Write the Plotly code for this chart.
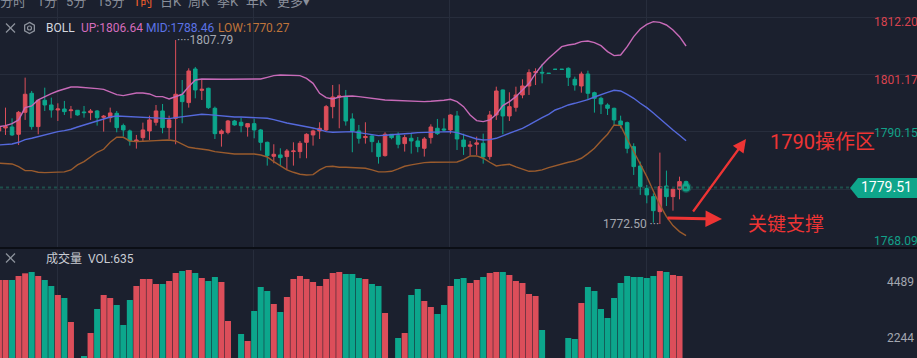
import math
import plotly.graph_objects as go

# ---------------- data (1-hour candles) ----------------
OPEN = [1790.35, 1790.92, 1791.11, 1789.71, 1793.92, 1797.57, 1791.18, 1796.23, 1795.33, 1794.37,
        1794.56, 1794.24, 1794.31, 1793.99, 1793.86, 1794.18, 1792.97, 1792.90, 1793.73, 1791.37,
        1790.35, 1788.30, 1789.07, 1790.35, 1792.01, 1794.18, 1790.99, 1792.77, 1797.25, 1795.78,
        1802.23, 1798.14, 1798.53, 1794.69, 1789.83, 1790.09, 1792.26, 1792.01, 1791.11, 1791.75,
        1790.54, 1788.17, 1785.49, 1785.75, 1785.43, 1786.39, 1786.39, 1788.17, 1789.58, 1790.35,
        1790.54, 1795.01, 1796.86, 1796.92, 1792.65, 1790.35, 1789.07, 1789.39, 1787.98, 1785.62,
        1789.71, 1789.45, 1787.92, 1788.94, 1788.43, 1787.02, 1789.07, 1790.86, 1790.73, 1790.54,
        1793.22, 1788.62, 1787.40, 1787.79, 1787.98, 1785.43, 1793.41, 1798.21, 1793.22, 1794.88,
        1797.25, 1798.97, 1801.53, 1801.59, 1801.41, 1802.18, 1802.18, 1802.36, 1800.25, 1798.97,
        1801.27, 1797.69, 1796.61, 1795.33, 1794.69, 1792.26, 1791.94, 1787.34, 1783.63, 1779.34,
        1777.75, 1774.87, 1779.79, 1777.75, 1779.16, 1780.63]
HIGH = [1791.50, 1794.82, 1792.77, 1794.18, 1800.57, 1798.02, 1796.30, 1798.65, 1796.74, 1795.65,
        1796.10, 1795.14, 1794.35, 1795.14, 1794.56, 1794.37, 1793.41, 1794.82, 1794.18, 1791.75,
        1790.60, 1789.58, 1791.94, 1793.28, 1795.33, 1795.52, 1793.28, 1807.79, 1800.12, 1802.36,
        1802.62, 1800.12, 1798.65, 1795.01, 1790.67, 1792.46, 1792.46, 1792.90, 1791.82, 1792.65,
        1790.73, 1788.30, 1787.79, 1787.02, 1786.89, 1788.17, 1788.43, 1789.90, 1790.60, 1792.01,
        1795.33, 1799.16, 1799.29, 1798.21, 1793.73, 1791.50, 1792.01, 1789.58, 1788.56, 1790.09,
        1789.75, 1790.09, 1789.58, 1789.83, 1789.19, 1789.19, 1791.62, 1792.65, 1792.77, 1793.54,
        1794.18, 1789.83, 1788.43, 1789.26, 1789.83, 1794.18, 1798.84, 1798.30, 1797.76, 1798.84,
        1800.25, 1802.17, 1802.36, 1803.19, 1801.41, 1802.18, 1802.18, 1802.55, 1800.76, 1801.72,
        1801.91, 1797.88, 1796.92, 1795.65, 1794.82, 1793.28, 1792.14, 1787.98, 1784.47, 1779.99,
        1778.39, 1786.19, 1782.74, 1779.34, 1781.58, 1780.82]
LOW = [1790.09, 1789.58, 1789.39, 1787.66, 1792.46, 1790.60, 1789.71, 1794.18, 1792.90, 1792.26,
       1793.41, 1792.77, 1793.28, 1792.90, 1792.46, 1791.37, 1790.22, 1792.01, 1790.09, 1789.26,
       1787.53, 1786.96, 1788.43, 1788.62, 1791.37, 1789.90, 1788.81, 1787.79, 1791.82, 1794.82,
       1796.61, 1796.29, 1794.56, 1788.81, 1787.34, 1789.71, 1791.37, 1790.09, 1789.26, 1788.94,
       1786.58, 1783.70, 1784.15, 1783.70, 1782.87, 1783.70, 1785.11, 1785.11, 1787.53, 1788.81,
       1790.35, 1792.77, 1790.86, 1791.37, 1786.26, 1787.92, 1787.92, 1786.26, 1784.08, 1785.43,
       1788.75, 1787.02, 1786.39, 1786.00, 1786.26, 1785.43, 1787.92, 1789.58, 1790.22, 1789.83,
       1786.70, 1785.75, 1785.62, 1785.75, 1784.08, 1784.85, 1792.46, 1789.71, 1792.26, 1794.05,
       1796.61, 1797.25, 1799.16, 1799.48, 1801.39, 1802.16, 1802.16, 1798.97, 1798.08, 1797.69,
       1796.29, 1793.86, 1793.60, 1793.41, 1791.50, 1790.86, 1786.06, 1781.91, 1778.08, 1776.47,
       1772.76, 1772.50, 1775.96, 1775.06, 1777.24, 1779.51]
CLOSE = [1790.99, 1791.18, 1789.58, 1793.92, 1797.38, 1791.18, 1796.23, 1795.33, 1794.37, 1794.56,
         1794.05, 1794.37, 1793.41, 1793.86, 1794.18, 1792.90, 1793.16, 1793.80, 1790.99, 1790.54,
         1788.43, 1788.62, 1790.54, 1792.46, 1794.18, 1790.99, 1792.46, 1797.38, 1795.97, 1801.85,
         1798.21, 1798.33, 1794.82, 1789.83, 1790.35, 1792.26, 1791.50, 1791.37, 1791.75, 1790.54,
         1788.17, 1785.62, 1785.87, 1785.23, 1786.51, 1786.51, 1787.98, 1789.71, 1790.35, 1790.86,
         1795.01, 1796.86, 1797.06, 1792.26, 1790.35, 1788.94, 1789.26, 1788.30, 1785.43, 1789.71,
         1789.07, 1787.79, 1789.07, 1788.43, 1787.34, 1788.81, 1791.11, 1789.83, 1790.54, 1793.41,
         1788.81, 1787.34, 1787.66, 1788.05, 1785.36, 1793.41, 1798.01, 1793.22, 1795.01, 1797.25,
         1798.97, 1801.53, 1801.72, 1801.46, 1801.39, 1802.16, 1802.16, 1800.63, 1799.16, 1801.27,
         1797.57, 1796.61, 1795.52, 1794.69, 1792.46, 1791.50, 1787.02, 1783.51, 1779.66, 1778.08,
         1775.06, 1779.66, 1777.75, 1779.16, 1780.63, 1779.51]
VOLUME = [4557, 4557, 4557, 4718, 4825, 4878, 4718, 4557, 4317, 3956,
          3836, 2873, 1200, 1510, 2432, 3395, 3956, 3836, 3555, 2753,
          3755, 4317, 4597, 4597, 4397, 4397, 4517, 4838, 4918, 4958,
          4838, 4637, 4517, 4677, 4477, 2914, 1200, 2392, 2112, 3314,
          4277, 4116, 3595, 3274, 3876, 4597, 4718, 4597, 4477, 4317,
          4597, 4838, 4878, 4798, 4798, 4637, 4597, 4397, 4317, 3234,
          1200, 2232, 2432, 3956, 4196, 3715, 3475, 3194, 3555, 4317,
          4597, 4637, 4437, 4557, 4677, 4838, 4878, 4878, 4758, 4517,
          4437, 3996, 3916, 2553, 1100, 1000, 1000, 2232, 2192, 3635,
          4277, 4116, 3395, 3034, 3836, 4437, 4718, 4677, 4677, 4637,
          4718, 4918, 4878, 4758, 4718, 635]
BOLL_UP = [1791.18, 1791.37, 1791.75, 1792.46, 1794.82, 1795.14, 1796.29, 1796.93, 1797.50, 1798.01,
           1798.40, 1798.78, 1798.78, 1798.72, 1798.65, 1798.46, 1798.33, 1797.89, 1797.31, 1797.12,
           1797.38, 1797.63, 1797.63, 1797.44, 1796.93, 1796.93, 1796.48, 1796.93, 1797.38, 1798.85,
           1800.12, 1800.32, 1800.25, 1800.25, 1800.25, 1800.25, 1800.25, 1800.25, 1800.25, 1800.25,
           1800.32, 1800.63, 1800.95, 1801.08, 1801.08, 1801.08, 1800.95, 1800.44, 1799.48, 1797.57,
           1796.74, 1796.48, 1796.86, 1796.99, 1797.06, 1796.93, 1796.74, 1796.55, 1796.42, 1796.29,
           1796.23, 1796.16, 1796.10, 1796.03, 1795.97, 1795.97, 1796.03, 1796.10, 1796.23, 1796.42,
           1795.97, 1795.01, 1793.41, 1792.33, 1792.14, 1792.46, 1793.54, 1795.20, 1795.97, 1796.93,
           1798.21, 1799.48, 1801.40, 1803.00, 1804.28, 1805.36, 1806.51, 1806.83, 1807.02, 1807.47,
           1807.60, 1807.28, 1806.70, 1805.56, 1804.79, 1804.92, 1806.51, 1808.43, 1809.90, 1810.79,
           1811.31, 1811.18, 1810.67, 1809.71, 1808.43, 1806.64]
BOLL_MID = [1787.66, 1787.73, 1787.85, 1788.17, 1788.69, 1788.94, 1789.26, 1789.64, 1789.96, 1790.22,
            1790.41, 1790.67, 1791.11, 1791.50, 1791.94, 1792.26, 1792.65, 1793.03, 1793.22, 1793.16,
            1793.03, 1792.97, 1792.90, 1792.90, 1792.84, 1792.77, 1792.71, 1792.90, 1793.09, 1793.28,
            1793.48, 1793.54, 1793.48, 1793.35, 1793.22, 1793.09, 1793.03, 1793.03, 1792.97, 1792.97,
            1792.90, 1792.77, 1792.52, 1792.14, 1791.88, 1791.63, 1791.43, 1791.18, 1790.92, 1790.60,
            1790.22, 1790.09, 1790.09, 1790.15, 1790.22, 1790.03, 1789.83, 1789.64, 1789.45, 1789.51,
            1789.58, 1789.64, 1789.77, 1789.90, 1790.03, 1790.09, 1790.15, 1790.22, 1790.22, 1790.22,
            1790.03, 1789.58, 1789.13, 1788.81, 1788.62, 1788.69, 1788.94, 1789.39, 1789.90, 1790.35,
            1790.86, 1791.50, 1792.26, 1792.90, 1793.54, 1794.37, 1794.82, 1795.33, 1795.65, 1795.97,
            1796.35, 1796.86, 1797.37, 1797.76, 1798.14, 1798.01, 1797.37, 1796.61, 1795.65, 1794.82,
            1793.80, 1792.65, 1791.62, 1790.54, 1789.51, 1788.46]
BOLL_LOW = [1784.15, 1784.08, 1784.02, 1783.51, 1782.74, 1782.74, 1782.42, 1782.36, 1782.36, 1782.42,
            1782.49, 1782.87, 1783.83, 1784.47, 1785.43, 1786.26, 1786.83, 1788.17, 1789.13, 1789.13,
            1788.43, 1788.30, 1788.37, 1788.37, 1788.49, 1788.56, 1788.62, 1788.43, 1787.79, 1787.21,
            1787.02, 1786.89, 1786.70, 1786.38, 1786.19, 1785.99, 1785.93, 1785.93, 1785.93, 1785.93,
            1785.74, 1785.36, 1784.47, 1783.64, 1782.87, 1782.42, 1782.04, 1781.91, 1781.97, 1782.87,
            1783.51, 1783.57, 1783.38, 1783.38, 1783.32, 1783.25, 1783.19, 1782.87, 1782.49, 1782.49,
            1782.61, 1783.06, 1783.57, 1783.83, 1784.08, 1784.28, 1784.34, 1784.34, 1784.34, 1784.34,
            1784.40, 1784.85, 1785.55, 1785.55, 1785.11, 1784.34, 1783.64, 1783.83, 1783.96, 1783.45,
            1782.99, 1782.61, 1782.68, 1782.87, 1783.32, 1783.70, 1783.96, 1784.34, 1784.60, 1785.11,
            1786.00, 1787.02, 1788.43, 1789.71, 1791.50, 1791.37, 1788.81, 1786.38, 1783.83, 1781.59,
            1778.84, 1776.16, 1773.92, 1772.20, 1771.05, 1770.27]

PRICE_GRID = [1768.09, 1779.12, 1790.15, 1801.17, 1812.20]
PRICE_LABELS = ["1812.20", "1801.17", "1790.15", "1768.09"]
VOL_LABELS = [4489, 2244]
PERIODS = ["分时", "1分", "5分", "15分", "1时", "日K", "周K", "季K", "年K", "更多▾"]
ACTIVE_PERIOD = "1时"
NOTE_ZONE = "1790操作区"
NOTE_SUPPORT = "关键支撑"

# ---------------- styling ----------------
W, H = 917, 358
BG = "#1b202e"
GRID = "#272d3c"
RED = "#dc4e5a"
GREEN = "#0ca68c"
C_UP, C_MID, C_LOW = "#c76ab8", "#5569dc", "#9a5b2d"
FONT = "Roboto, 'Noto Sans CJK SC', sans-serif"

idx = list(range(-1, len(OPEN) - 1))          # candle slots (first one is cut at the left edge)
X_RANGE = [-0.84, 139.29]
GRID_X = [7.9, 37.9, 67.9, 97.9]
PRICE_RANGE = [1767.90, 1815.46]
VOL_RANGE = [1430, 5760]
SPLIT = 248  # pixel row separating price / volume panes


def px(x):
    return x / W


def py(y):
    return 1 - y / H


up_flags = [c > o for o, c in zip(OPEN, CLOSE)]
vol_colors = [RED if u else GREEN for u in up_flags]

fig = go.Figure()
fig.add_trace(go.Candlestick(
    x=idx, open=OPEN, high=HIGH, low=LOW, close=CLOSE,
    increasing=dict(line=dict(color=RED, width=1), fillcolor=RED),
    decreasing=dict(line=dict(color=GREEN, width=1), fillcolor=GREEN),
    whiskerwidth=0, hoverinfo="skip", xaxis="x", yaxis="y"))
for series, col in [(BOLL_UP, C_UP), (BOLL_MID, C_MID), (BOLL_LOW, C_LOW)]:
    fig.add_trace(go.Scatter(x=idx, y=series, mode="lines", line=dict(color=col, width=1.4),
                             hoverinfo="skip", xaxis="x", yaxis="y"))
fig.add_trace(go.Scatter(x=[idx[-1]], y=[CLOSE[-1]], mode="markers",
                         marker=dict(size=8, color="rgba(16,170,140,0.9)",
                                     line=dict(color="rgba(16,170,140,0.35)", width=3)),
                         hoverinfo="skip", xaxis="x", yaxis="y"))
fig.add_trace(go.Bar(x=idx, y=VOLUME, marker=dict(color=vol_colors, line=dict(width=0)),
                     width=0.92, hoverinfo="skip", xaxis="x2", yaxis="y2"))

fig.update_layout(
    width=W, height=H, margin=dict(l=0, r=0, t=0, b=0),
    paper_bgcolor=BG, plot_bgcolor=BG, showlegend=False, hovermode=False,
    font=dict(family=FONT, color="#9ba0aa", size=12),
    boxgap=0.22,
    xaxis=dict(domain=[0, 1], range=X_RANGE, anchor="y", tickvals=GRID_X, showticklabels=False,
               showgrid=True, gridcolor=GRID, gridwidth=1, zeroline=False, showline=False,
               rangeslider=dict(visible=False), fixedrange=True),
    yaxis=dict(domain=[py(SPLIT), 1], range=PRICE_RANGE, tickvals=PRICE_GRID, showticklabels=False,
               showgrid=True, gridcolor=GRID, zeroline=False, showline=False, fixedrange=True),
    xaxis2=dict(domain=[0, 1], range=X_RANGE, anchor="y2", tickvals=GRID_X, showticklabels=False,
                showgrid=True, gridcolor=GRID, zeroline=False, showline=False, fixedrange=True),
    yaxis2=dict(domain=[0, py(SPLIT + 2)], range=VOL_RANGE, showgrid=False, showticklabels=False,
                zeroline=False, showline=False, fixedrange=True),
)

shapes = []
# separator between panes
shapes.append(dict(type="line", xref="paper", yref="paper", x0=0, x1=1, y0=py(SPLIT), y1=py(SPLIT),
                   line=dict(color="#0b0e15", width=2)))
# current price dotted line
shapes.append(dict(type="line", xref="paper", yref="y", x0=0, x1=px(852), y0=CLOSE[-1], y1=CLOSE[-1],
                   line=dict(color="#1e4f4b", width=2, dash="3px,3px")))
# current price tag
tag = [(850, 188), (858, 178), (920, 178), (920, 198), (858, 198)]
shapes.append(dict(type="path", xref="paper", yref="paper", fillcolor="#0fa68b", line=dict(width=0),
                   path="M " + " L ".join(f"{px(a):.5f},{py(b):.5f}" for a, b in tag) + " Z"))
# settings icon (hexagon + ring)
cx, cy, r = 29.5, 28, 5.6
hexpts = [(cx + r * math.sin(math.radians(60 * k)), cy - r * math.cos(math.radians(60 * k))) for k in range(6)]
shapes.append(dict(type="path", xref="paper", yref="paper", line=dict(color="#8d929c", width=1.3),
                   path="M " + " L ".join(f"{px(a):.5f},{py(b):.5f}" for a, b in hexpts) + " Z"))
shapes.append(dict(type="circle", xref="paper", yref="paper", x0=px(cx - 2), x1=px(cx + 2),
                   y0=py(cy + 2), y1=py(cy - 2), line=dict(color="#8d929c", width=1.2)))
# close icons (thin crosses)
for ccy in (28, 258):
    for sgn in (1, -1):
        shapes.append(dict(type="line", xref="paper", yref="paper",
                           x0=px(6), x1=px(15), y0=py(ccy - 4.5 * sgn), y1=py(ccy + 4.5 * sgn),
                           line=dict(color="#8d929c", width=1.3)))
fig.update_layout(shapes=shapes)

ann = []
# period toolbar (cut at top edge)
period_x = [13, 47, 76, 111, 143, 171, 199, 228, 257, 293]
for name, xc in zip(PERIODS, period_x):
    ann.append(dict(text=name, x=px(xc), y=py(1), xref="paper", yref="paper", showarrow=False,
                    xanchor="center", yanchor="middle",
                    font=dict(size=13, color="#ee5f2c" if name == ACTIVE_PERIOD else "#8a8f9a")))
# BOLL legend
legend = [("BOLL", "#d4d7de", 44), (f"UP:{BOLL_UP[-1]:.2f}", "#d46cbd", 79),
          (f"MID:{BOLL_MID[-1]:.2f}", "#5b73e6", 144), (f"LOW:{BOLL_LOW[-1]:.2f}", "#c0753a", 216)]
for t, col, x0 in legend:
    ann.append(dict(text=t, x=px(x0), y=py(28), xref="paper", yref="paper", showarrow=False,
                    xanchor="left", yanchor="middle", font=dict(size=12, color=col)))
# volume legend
ann.append(dict(text=f"成交量  VOL:{VOLUME[-1]}", x=px(44), y=py(258), xref="paper", yref="paper",
                showarrow=False, xanchor="left", yanchor="middle", font=dict(size=12, color="#c9ccd3")))
# price axis labels
label_shift = {"1812.20": -5, "1801.17": -5, "1790.15": -1, "1768.09": 6}
for t in PRICE_LABELS:
    val = float(t)
    ann.append(dict(text=t, x=px(920), y=val, xref="paper", yref="y", showarrow=False,
                    xanchor="right", yanchor="middle", yshift=label_shift[t],
                    font=dict(size=12, color="#d8434f" if val > CLOSE[-1] + 20 else "#12a189")))
# volume axis labels
for v in VOL_LABELS:
    ann.append(dict(text=str(v), x=px(916), y=v, xref="paper", yref="y2", showarrow=False,
                    xanchor="right", yanchor="middle", font=dict(size=12, color="#a3a7b0")))
# current price tag text
ann.append(dict(text=f"{CLOSE[-1]:.2f}", x=px(886), y=CLOSE[-1], xref="paper", yref="y",
                showarrow=False, xanchor="center", yanchor="middle",
                font=dict(size=14, color="#ffffff")))
# high / low markers
hi_i = max(range(len(HIGH)), key=lambda k: HIGH[k])
lo_i = min(range(len(LOW)), key=lambda k: LOW[k])
ann.append(dict(text=f"····{HIGH[hi_i]:.2f}", x=idx[hi_i], y=HIGH[hi_i], xref="x", yref="y",
                showarrow=False, xanchor="left", yanchor="middle", xshift=-1,
                font=dict(size=12, color="#a4a8b1")))
ann.append(dict(text=f"{LOW[lo_i]:.2f} ···", x=idx[lo_i], y=LOW[lo_i], xref="x", yref="y",
                showarrow=False, xanchor="right", yanchor="middle", xshift=1,
                font=dict(size=12, color="#a4a8b1")))
# hand-drawn notes
ann.append(dict(text=NOTE_ZONE, x=px(822), y=py(142), xref="paper", yref="paper", showarrow=False,
                xanchor="center", yanchor="middle", font=dict(size=20, color="#ee3434")))
ann.append(dict(text=NOTE_SUPPORT, x=px(786), y=py(224), xref="paper", yref="paper", showarrow=False,
                xanchor="center", yanchor="middle", font=dict(size=19, color="#ee3434")))
ann.append(dict(text="", x=px(746), y=py(139), xref="paper", yref="paper", showarrow=True,
                ax=-54, ay=74, arrowhead=2, arrowsize=1.2, arrowwidth=2.2, arrowcolor="#ee3434"))
ann.append(dict(text="", x=px(722), y=py(219), xref="paper", yref="paper", showarrow=True,
                ax=-56, ay=-1, arrowhead=2, arrowsize=1.1, arrowwidth=3, arrowcolor="#ee3434"))
fig.update_layout(annotations=ann)

fig.write_html(
    "out.html",
    config={"displayModeBar": False, "staticPlot": True},
    post_script="document.body.style.margin='0';document.body.style.padding='0';"
                "document.body.style.overflow='hidden';document.body.style.background='" + BG + "';",
)
